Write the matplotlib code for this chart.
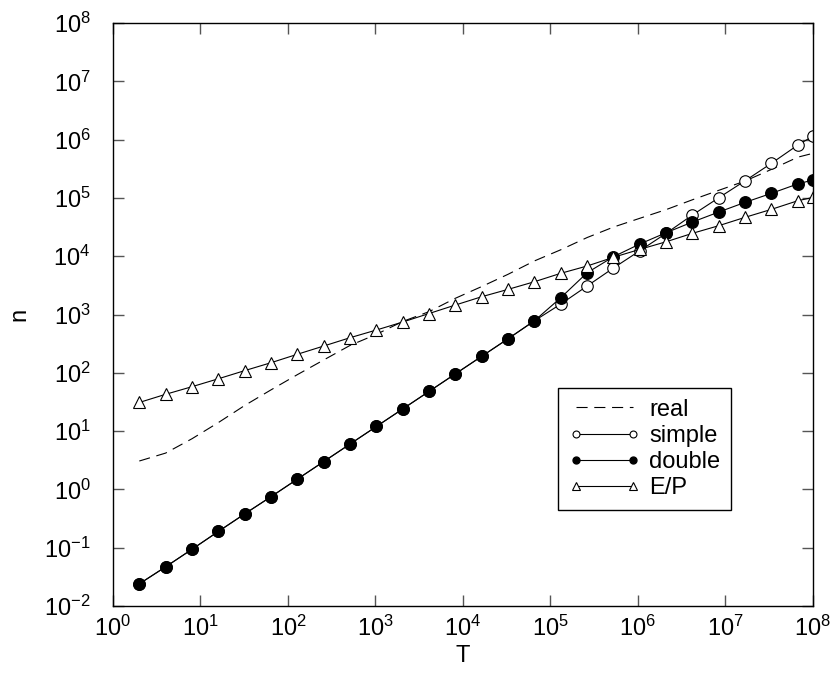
import matplotlib

matplotlib.use("Agg")

import matplotlib.pyplot as plt
import numpy as np


# T runs over powers of two, last sample at 1e8
T = [2, 4, 8, 16, 32, 64, 128, 256, 512, 1024, 2048, 4096, 8192, 16384,
     32768, 65536, 131072, 262144, 524288, 1048576, 2097152, 4194304,
     8388608, 16777216, 33554432, 67108864, 100000000]

real = [3.07, 4.2, 7.4, 14, 27.5, 51, 93, 166, 295, 457, 760, 1120, 1900,
        3020, 4900, 8300, 12900, 20900, 31600, 44700, 63000, 93000, 135000,
        195000, 309000, 500000, 582000]

double = [0.024, 0.047, 0.094, 0.19, 0.38, 0.75, 1.5, 3.0, 6.0, 12, 24, 48,
          96, 192, 384, 780, 1940, 5200, 9800, 16200, 25300, 38600, 57300,
          84000, 120000, 174000, 203000]

simple = [0.024, 0.047, 0.094, 0.19, 0.38, 0.75, 1.5, 3.0, 6.0, 12, 24, 48,
          96, 192, 384, 780, 1510, 3080, 6280, 12400, 24700, 51000, 100700,
          197000, 393000, 807000, 1150000]

ep = [31, 42.8, 57.8, 79, 109, 149, 208, 288, 400, 542, 743, 1040, 1455,
      2020, 2700, 3650, 5090, 6790, 9580, 13100, 17700, 24700, 33400, 46500,
      63700, 89500, 102000]


def main() -> None:
    plt.rcParams["font.family"] = ["Liberation Sans", "DejaVu Sans"]
    plt.rcParams["mathtext.fontset"] = "custom"
    plt.rcParams["mathtext.rm"] = "Liberation Sans"
    plt.rcParams["mathtext.it"] = "Liberation Sans:italic"

    fig = plt.figure(figsize=(8.3, 6.75), dpi=100)
    ax = fig.add_axes([0.1361, 0.1022, 0.8434, 0.8637])

    lw = 0.8
    ms = 8.3
    ax.plot(T, real, "--", color="black", lw=lw, dashes=(10, 6), label="real")
    ax.plot(T, simple, "-", color="black", lw=lw, marker="o", ms=ms,
            mfc="white", mec="black", mew=0.8, label="simple")
    ax.plot(T, double, "-", color="black", lw=lw, marker="o", ms=ms,
            mfc="black", mec="black", label="double")
    ax.plot(T, ep, "-", color="black", lw=lw, marker="^", ms=ms + 0.5,
            mfc="white", mec="black", mew=0.8, label="E/P")

    ax.set_xscale("log")
    ax.set_yscale("log")
    ax.set_xlim(1, 1e8)
    ax.set_ylim(1e-2, 1e8)
    ax.set_xticks([10.0 ** k for k in range(0, 9)])
    ax.set_yticks([10.0 ** k for k in range(-2, 9)])
    ax.minorticks_off()
    ax.tick_params(which="major", direction="in", length=8, width=1,
                   color="#555555", top=True, right=True, labelsize=17)
    ax.tick_params(axis="x", pad=7)
    ax.tick_params(axis="y", pad=16)
    for spine in ax.spines.values():
        spine.set_linewidth(1.0)

    ax.set_xlabel("T", fontsize=17, labelpad=3)
    ax.set_ylabel("n", fontsize=17, labelpad=10)

    leg = ax.legend(loc="upper left", bbox_to_anchor=(0.636, 0.374),
                    fontsize=17, numpoints=2, markerscale=0.6,
                    handlelength=3.0, handletextpad=0.4, labelspacing=0.18,
                    borderpad=0.45, fancybox=False, framealpha=1,
                    edgecolor="black", borderaxespad=0)
    leg.get_frame().set_linewidth(1.0)

    fig.savefig("out.png", dpi=100)
    plt.close(fig)


if __name__ == "__main__":
    main()
